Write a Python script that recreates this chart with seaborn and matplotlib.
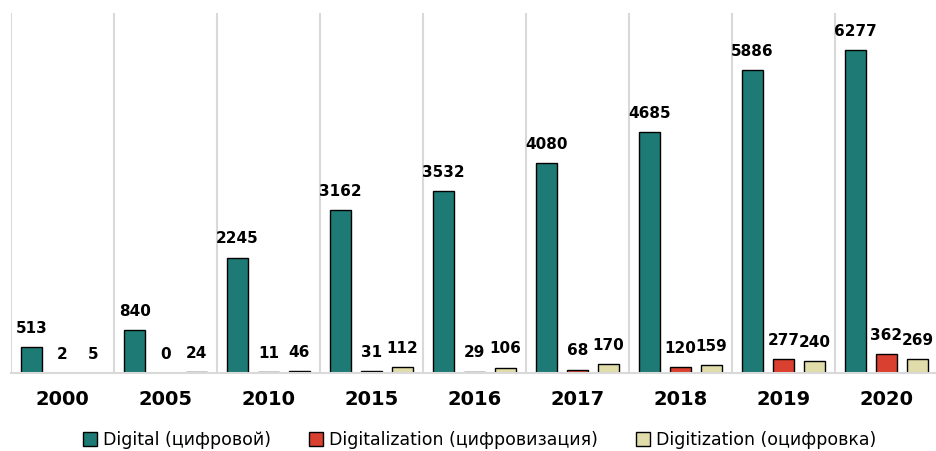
import matplotlib
matplotlib.use("Agg")
import matplotlib.pyplot as plt
import seaborn as sns
import pandas as pd

years = ["2000", "2005", "2010", "2015", "2016", "2017", "2018", "2019", "2020"]
digital = [513, 840, 2245, 3162, 3532, 4080, 4685, 5886, 6277]
digitalization = [2, 0, 11, 31, 29, 68, 120, 277, 362]
digitization = [5, 24, 46, 112, 106, 170, 159, 240, 269]
series_names = ["Digital (цифровой)", "Digitalization (цифровизация)", "Digitization (оцифровка)"]
colors = ["#1E7A74", "#D9402F", "#E0DDAB"]

rows = []
for name, vals in zip(series_names, [digital, digitalization, digitization]):
    for y, v in zip(years, vals):
        rows.append({"year": y, "series": name, "value": v})
df = pd.DataFrame(rows)

sns.set_style("white")
plt.rcParams["font.family"] = ["DejaVu Sans"]
plt.rcParams["text.color"] = "black"
plt.rcParams["xtick.color"] = "black"

fig = plt.figure(figsize=(9.36, 4.51), dpi=100)
ax = fig.add_axes([11 / 936, (451 - 373) / 451, 927 / 936, 360 / 451])

sns.barplot(data=df, x="year", y="value", hue="series", palette=colors,
            saturation=1, width=0.9, gap=0.32, edgecolor="black", linewidth=1.0,
            errorbar=None, ax=ax, legend=True)

ax.set_ylim(0, 7000)
ax.set_xlim(-0.5, len(years) - 0.5)
ax.set_xlabel("")
ax.set_ylabel("")
ax.set_yticks([])
for sp in ["top", "right", "left"]:
    ax.spines[sp].set_visible(False)
ax.spines["bottom"].set_color("#d9d9d9")
ax.spines["bottom"].set_linewidth(1.5)
for i in range(len(years)):
    ax.axvline(i - 0.5, color="#d9d9d9", linewidth=1.5, zorder=0)

ax.tick_params(axis="x", length=0, pad=12, colors="black")
for lab in ax.get_xticklabels():
    lab.set_fontsize(14)
    lab.set_fontweight("bold")
    lab.set_color("black")

for cont in ax.containers:
    ax.bar_label(cont, labels=[f"{int(v)}" for v in cont.datavalues],
                 padding=8, fontsize=11, fontweight="bold", color="black")

ax.get_legend().remove()
handles, labels = ax.get_legend_handles_labels()
leg = fig.legend(handles, labels, loc="center", bbox_to_anchor=(480 / 936, 1 - 440 / 451),
                 ncol=3, frameon=False, fontsize=12.5, handlelength=0.8,
                 handleheight=0.8, handletextpad=0.35, columnspacing=2.2)
for t in leg.get_texts():
    t.set_color("black")

fig.savefig("out.png", dpi=100)
